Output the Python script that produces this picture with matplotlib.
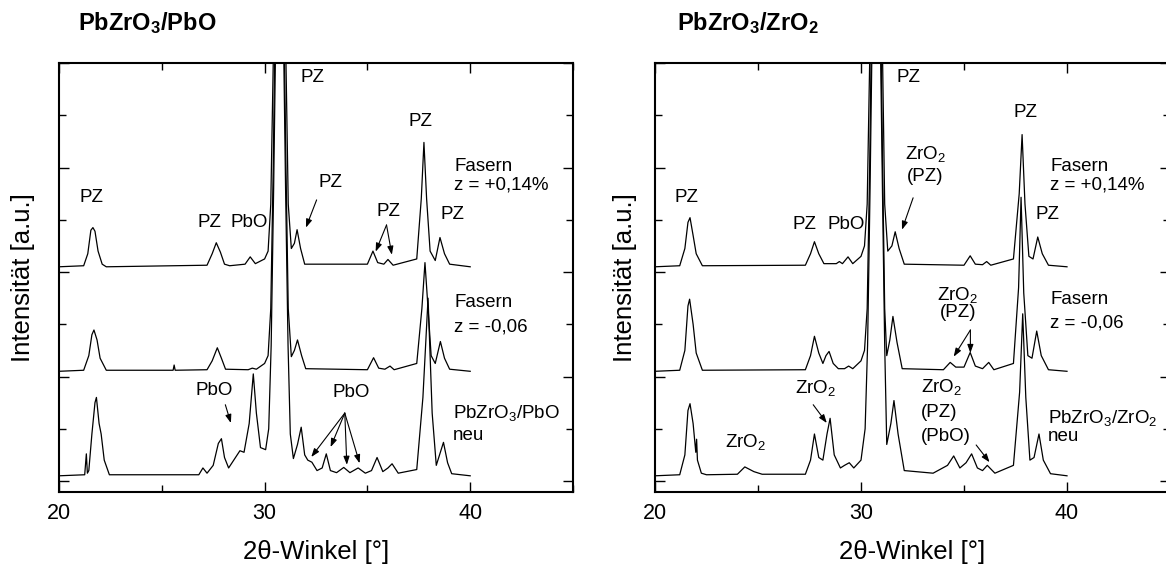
import matplotlib
matplotlib.use("Agg")
import matplotlib.pyplot as plt
from matplotlib.ticker import MultipleLocator

plt.rcParams['font.family'] = ['Liberation Sans', 'DejaVu Sans']
plt.rcParams['mathtext.fontset'] = 'custom'
plt.rcParams['mathtext.rm'] = 'Liberation Sans'
plt.rcParams['mathtext.it'] = 'Liberation Sans'
plt.rcParams['mathtext.bf'] = 'Liberation Sans:bold'

# ---- data (2theta in deg, intensity in a.u. above each baseline) ----
# PbZrO3/PbO panel
pbo_top_x = [20.0, 21.2, 21.4, 21.55, 21.65, 21.75, 21.9, 22.1, 22.3, 27.2, 27.45, 27.65, 27.85, 28.05, 28.3,
             29.05, 29.3, 29.55, 30.0, 30.17, 30.3, 30.42, 30.55, 30.73, 30.9, 31.04, 31.15, 31.3, 31.45, 31.58,
             31.75, 31.95, 35.0, 35.27, 35.5, 35.8, 36.0, 36.25, 37.4, 37.62, 37.75, 37.88, 38.05, 38.3, 38.53,
             38.75, 39.0, 40.0]
pbo_top_y = [0.0, 0.02, 0.25, 0.7, 0.75, 0.68, 0.3, 0.05, 0.0, 0.03, 0.25, 0.46, 0.28, 0.05, 0.02,
             0.05, 0.19, 0.06, 0.15, 0.3, 1.2, 3.9, 7.9, 40.0, 7.9, 3.9, 1.2, 0.35, 0.45, 0.71,
             0.35, 0.05, 0.05, 0.3, 0.08, 0.05, 0.14, 0.03, 0.15, 1.3, 2.38, 1.3, 0.3, 0.12, 0.56,
             0.25, 0.05, 0.0]

pbo_mid_x = [20.0, 21.2, 21.45, 21.6, 21.7, 21.85, 22.0, 22.3, 25.55, 25.6, 25.65, 27.2, 27.45, 27.7, 27.9, 28.1,
             29.2, 29.4, 29.6, 30.0, 30.17, 30.3, 30.42, 30.55, 30.73, 30.9, 31.04, 31.15, 31.3, 31.45, 31.6,
             31.8, 32.0, 35.0, 35.3, 35.55, 35.85, 36.1, 36.3, 37.4, 37.65, 37.8, 37.95, 38.1, 38.3, 38.55,
             38.75, 39.0, 40.0]
pbo_mid_y = [0.0, 0.02, 0.3, 0.7, 0.79, 0.6, 0.25, 0.02, 0.02, 0.12, 0.02, 0.03, 0.2, 0.45, 0.25, 0.04,
             0.03, 0.06, 0.04, 0.15, 0.3, 1.2, 3.9, 7.9, 40.0, 7.9, 3.9, 1.2, 0.28, 0.4, 0.6,
             0.3, 0.05, 0.03, 0.26, 0.06, 0.04, 0.1, 0.03, 0.15, 1.2, 2.08, 1.2, 0.3, 0.15, 0.57,
             0.25, 0.04, 0.0]

pbo_new_x = [20.0, 21.25, 21.33, 21.38, 21.45, 21.6, 21.75, 21.82, 21.95, 22.05, 22.2, 22.45, 26.8, 27.0, 27.2,
             27.5, 27.75, 27.9, 28.05, 28.25, 28.5, 28.8, 29.0, 29.25, 29.45, 29.6, 29.8, 30.05, 30.2, 30.32,
             30.44, 30.56, 30.73, 30.9, 31.02, 31.14, 31.25, 31.4, 31.6, 31.78, 31.95, 32.1, 32.3, 32.55, 32.8,
             33.0, 33.2, 33.5, 33.85, 34.15, 34.55, 34.9, 35.2, 35.47, 35.75, 36.0, 36.2, 36.5, 37.4, 37.7,
             37.95, 38.15, 38.35, 38.7, 38.9, 39.1, 40.0]
pbo_new_y = [0.0, 0.02, 0.42, 0.05, 0.1, 0.8, 1.4, 1.5, 1.0, 0.8, 0.3, 0.02, 0.02, 0.15, 0.05,
             0.2, 0.62, 0.71, 0.35, 0.15, 0.3, 0.48, 0.45, 1.0, 1.95, 1.2, 0.54, 0.5, 0.9, 2.5,
             5.5, 9.0, 40.0, 9.0, 5.5, 2.5, 0.8, 0.33, 0.6, 0.93, 0.4, 0.3, 0.26, 0.1, 0.15,
             0.42, 0.1, 0.06, 0.16, 0.06, 0.15, 0.05, 0.1, 0.35, 0.08, 0.15, 0.23, 0.05, 0.12, 1.5,
             3.4, 1.2, 0.2, 0.64, 0.25, 0.04, 0.0]

# PbZrO3/ZrO2 panel
zro_top_x = [20.0, 21.2, 21.45, 21.6, 21.7, 21.85, 22.0, 22.3, 27.3, 27.55, 27.74, 27.95, 28.2, 28.8, 28.95,
             29.1, 29.37, 29.6, 30.0, 30.17, 30.3, 30.42, 30.55, 30.75, 30.92, 31.05, 31.15, 31.3, 31.5, 31.66,
             31.85, 32.1, 35.0, 35.3, 35.55, 35.9, 36.1, 36.3, 37.4, 37.68, 37.82, 37.96, 38.15, 38.35, 38.58,
             38.8, 39.1, 40.0]
zro_top_y = [0.0, 0.02, 0.35, 0.85, 0.94, 0.6, 0.25, 0.02, 0.03, 0.25, 0.48, 0.25, 0.06, 0.06, 0.1,
             0.06, 0.19, 0.06, 0.2, 0.4, 1.2, 3.9, 7.9, 40.0, 7.9, 3.9, 1.2, 0.3, 0.4, 0.67,
             0.35, 0.05, 0.03, 0.21, 0.05, 0.04, 0.1, 0.03, 0.15, 1.4, 2.53, 1.2, 0.2, 0.15, 0.57,
             0.25, 0.03, 0.0]

zro_mid_x = [20.0, 21.2, 21.45, 21.6, 21.68, 21.85, 22.0, 22.3, 27.3, 27.55, 27.74, 27.95, 28.15, 28.3, 28.45,
             28.65, 28.9, 29.2, 29.4, 29.6, 30.0, 30.17, 30.3, 30.42, 30.55, 30.75, 30.92, 31.05, 31.15, 31.25,
             31.4, 31.55, 31.75, 32.0, 34.0, 34.33, 34.6, 35.0, 35.3, 35.55, 35.9, 36.2, 36.45, 37.4, 37.65,
             37.77, 37.9, 38.1, 38.3, 38.53, 38.75, 39.1, 40.0]
zro_mid_y = [0.0, 0.02, 0.4, 1.25, 1.38, 0.9, 0.35, 0.02, 0.03, 0.3, 0.67, 0.35, 0.15, 0.3, 0.38,
             0.15, 0.05, 0.05, 0.1, 0.05, 0.2, 0.4, 1.2, 3.9, 7.9, 40.0, 7.9, 3.9, 1.2, 0.3,
             0.6, 1.05, 0.55, 0.05, 0.03, 0.17, 0.08, 0.08, 0.36, 0.1, 0.05, 0.17, 0.03, 0.15, 1.6,
             3.33, 1.5, 0.3, 0.25, 0.77, 0.3, 0.03, 0.0]

zro_new_x = [20.0, 21.2, 21.45, 21.6, 21.7, 21.85, 21.98, 22.02, 22.06, 22.25, 22.5, 24.0, 24.36, 24.8, 25.2,
             27.3, 27.55, 27.74, 27.95, 28.15, 28.35, 28.5, 28.7, 29.0, 29.2, 29.43, 29.65, 30.0, 30.2, 30.32,
             30.44, 30.56, 30.75, 30.92, 31.04, 31.15, 31.25, 31.45, 31.6, 31.8, 32.1, 33.5, 34.2, 34.5, 34.8,
             35.1, 35.37, 35.65, 35.9, 36.13, 36.5, 37.4, 37.7, 37.85, 38.0, 38.2, 38.4, 38.64, 38.85, 39.2,
             40.0]
zro_new_y = [0.0, 0.02, 0.4, 1.25, 1.38, 1.0, 0.45, 0.7, 0.3, 0.05, 0.02, 0.03, 0.17, 0.08, 0.03,
             0.03, 0.3, 0.8, 0.35, 0.3, 0.8, 1.1, 0.4, 0.15, 0.2, 0.25, 0.15, 0.3, 0.9, 2.5,
             5.5, 9.0, 40.0, 9.0, 5.5, 2.5, 0.6, 1.0, 1.44, 0.8, 0.1, 0.05, 0.2, 0.38, 0.15,
             0.25, 0.42, 0.15, 0.1, 0.2, 0.05, 0.2, 1.6, 3.1, 1.5, 0.3, 0.35, 0.8, 0.3, 0.04,
             0.0]

offsets = [4.1, 2.1, 0.1]  # vertical shift of the three stacked scans


def style_axes(ax):
    ax.set_xlim(20, 45)
    ax.set_ylim(-0.21, 8.0)
    ax.xaxis.set_major_locator(MultipleLocator(10))
    ax.xaxis.set_minor_locator(MultipleLocator(5))
    ax.yaxis.set_major_locator(MultipleLocator(2))
    ax.yaxis.set_minor_locator(MultipleLocator(1))
    ax.tick_params(which='both', direction='in', top=True, right=True, width=1.0, labelsize=15.5, pad=8)
    ax.tick_params(which='major', length=7)
    ax.tick_params(which='minor', length=5)
    ax.set_yticklabels([])
    for sp in ax.spines.values():
        sp.set_linewidth(1.5)


def arrow(ax, xy, xytext):
    ax.annotate('', xy=xy, xytext=xytext,
                arrowprops=dict(arrowstyle='-|>,head_length=0.5,head_width=0.18', color='black', lw=0.8,
                                shrinkA=0, shrinkB=0))


fig = plt.figure(figsize=(11.66, 5.72), dpi=100)
ax1 = fig.add_axes([59 / 1166, 80 / 572, 514 / 1166, 429 / 572])
ax2 = fig.add_axes([655 / 1166, 80 / 572, 515 / 1166, 429 / 572])

for xs, ys, off in zip([pbo_top_x, pbo_mid_x, pbo_new_x], [pbo_top_y, pbo_mid_y, pbo_new_y], offsets):
    ax1.plot(xs, [v + off for v in ys], color='black', lw=0.9)
for xs, ys, off in zip([zro_top_x, zro_mid_x, zro_new_x], [zro_top_y, zro_mid_y, zro_new_y], offsets):
    ax2.plot(xs, [v + off for v in ys], color='black', lw=0.9)

style_axes(ax1)
style_axes(ax2)

fs = 13.5
# left panel labels
t = dict(fontsize=fs, ha='center', va='center')
ax1.text(21.57, 5.42, 'PZ', **t)
ax1.text(27.31, 4.94, 'PZ', **t)
ax1.text(29.24, 4.94, 'PbO', **t)
ax1.text(32.32, 7.72, 'PZ', **t)
ax1.text(33.21, 5.71, 'PZ', **t)
arrow(ax1, (32.01, 4.85), (32.53, 5.38))
ax1.text(36.03, 5.15, 'PZ', **t)
arrow(ax1, (35.4, 4.39), (35.93, 4.9))
arrow(ax1, (36.19, 4.33), (35.93, 4.9))
ax1.text(37.6, 6.88, 'PZ', **t)
ax1.text(39.16, 5.1, 'PZ', **t)
ax1.text(39.22, 6.02, 'Fasern', fontsize=fs, ha='left', va='center')
ax1.text(39.22, 5.67, 'z = +0,14%', fontsize=fs, ha='left', va='center')
ax1.text(39.22, 3.41, 'Fasern', fontsize=fs, ha='left', va='center')
ax1.text(39.22, 2.95, 'z = -0,06', fontsize=fs, ha='left', va='center')
ax1.text(27.57, 1.74, 'PbO', **t)
arrow(ax1, (28.36, 1.11), (28.09, 1.46))
ax1.text(34.2, 1.69, 'PbO', **t)
for tip in [(32.27, 0.46), (33.21, 0.65), (34.0, 0.31), (34.62, 0.34)]:
    arrow(ax1, tip, (33.9, 1.3))
ax1.text(39.16, 1.3, 'PbZrO$_3$/PbO', fontsize=fs, ha='left', va='center')
ax1.text(39.16, 0.88, 'neu', fontsize=fs, ha='left', va='center')

# right panel labels
ax2.text(21.53, 5.42, 'PZ', **t)
ax2.text(27.25, 4.9, 'PZ', **t)
ax2.text(29.26, 4.9, 'PbO', **t)
ax2.text(32.32, 7.72, 'PZ', **t)
ax2.text(33.13, 6.25, 'ZrO$_2$', **t)
ax2.text(33.13, 5.82, '(PZ)', **t)
arrow(ax2, (31.99, 4.81), (32.53, 5.42))
ax2.text(37.98, 7.05, 'PZ', **t)
ax2.text(39.07, 5.1, 'PZ', **t)
ax2.text(39.18, 6.02, 'Fasern', fontsize=fs, ha='left', va='center')
ax2.text(39.18, 5.67, 'z = +0,14%', fontsize=fs, ha='left', va='center')
ax2.text(34.71, 3.56, 'ZrO$_2$', **t)
ax2.text(34.71, 3.22, '(PZ)', **t)
arrow(ax2, (34.5, 2.38), (35.31, 2.89))
arrow(ax2, (35.31, 2.45), (35.31, 2.89))
ax2.text(39.18, 3.47, 'Fasern', fontsize=fs, ha='left', va='center')
ax2.text(39.18, 3.03, 'z = -0,06', fontsize=fs, ha='left', va='center')
ax2.text(27.79, 1.78, 'ZrO$_2$', **t)
arrow(ax2, (28.34, 1.11), (27.68, 1.46))
ax2.text(24.41, 0.75, 'ZrO$_2$', **t)
ax2.text(32.92, 1.8, 'ZrO$_2$', fontsize=fs, ha='left', va='center')
ax2.text(32.92, 1.32, '(PZ)', fontsize=fs, ha='left', va='center')
ax2.text(32.92, 0.86, '(PbO)', fontsize=fs, ha='left', va='center')
arrow(ax2, (36.24, 0.36), (35.59, 0.69))
ax2.text(39.07, 1.21, 'PbZrO$_3$/ZrO$_2$', fontsize=fs, ha='left', va='center')
ax2.text(39.07, 0.86, 'neu', fontsize=fs, ha='left', va='center')

# axis titles and panel headings
fig.text(78 / 1166, 1 - 23 / 572, r'PbZrO$\mathbf{_3}$/PbO', fontsize=17, fontweight='bold',
         ha='left', va='center')
fig.text(677 / 1166, 1 - 23 / 572, r'PbZrO$\mathbf{_3}$/ZrO$\mathbf{_2}$', fontsize=17, fontweight='bold',
         ha='left', va='center')
for xp in [23, 625]:
    fig.text(xp / 1166, 1 - 278 / 572, 'Intensität [a.u.]', fontsize=18.5, rotation=90, ha='center', va='center')
for xp in [316, 912]:
    fig.text(xp / 1166, 1 - 552 / 572, '2θ-Winkel [°]', fontsize=18.5, ha='center', va='center')

fig.savefig('out.png', dpi=100)
